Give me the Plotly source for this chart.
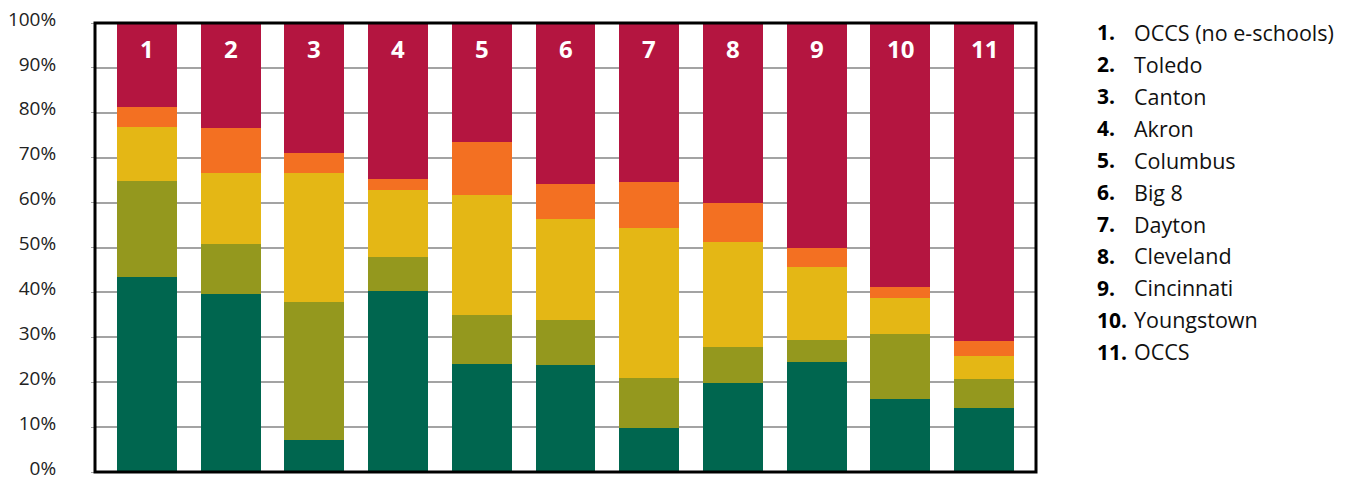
import plotly.graph_objects as go

# Districts (numbered bars) and the share of students in each band, bottom to top
district_nums = ["1", "2", "3", "4", "5", "6", "7", "8", "9", "10", "11"]
district_names = ["OCCS (no e-schools)", "Toledo", "Canton", "Akron", "Columbus",
                  "Big 8", "Dayton", "Cleveland", "Cincinnati", "Youngstown", "OCCS"]

green = [43.5, 39.7, 7.2, 40.3, 24.1, 23.9, 9.9, 19.9, 24.6, 16.3, 14.3]
olive = [21.3, 11.1, 30.7, 7.6, 10.9, 10.0, 11.1, 8.0, 4.8, 14.5, 6.5]
yellow = [12.0, 15.8, 28.7, 14.9, 26.7, 22.4, 33.3, 23.3, 16.3, 8.0, 5.1]
orange = [4.4, 10.0, 4.4, 2.4, 11.7, 7.8, 10.3, 8.7, 4.2, 2.4, 3.3]
maroon = [18.8, 23.4, 29.0, 34.8, 26.6, 35.9, 35.4, 40.1, 50.1, 58.8, 70.8]

y_ticks = [0, 10, 20, 30, 40, 50, 60, 70, 80, 90, 100]
y_tick_text = [f"{v}%" for v in y_ticks]

series = [
    (green, "#00664F"),
    (olive, "#94981E"),
    (yellow, "#E4B715"),
    (orange, "#F37022"),
    (maroon, "#B41540"),
]

x = list(range(len(district_nums)))
fig = go.Figure()
for vals, col in series:
    fig.add_trace(go.Bar(x=x, y=vals, marker=dict(color=col, line=dict(width=0)),
                         width=0.715, hoverinfo="skip", showlegend=False))

# White district numbers near the top of each bar
for i, num in enumerate(district_nums):
    fig.add_annotation(x=i, y=94.3, xref="x", yref="y", text=f"<b>{num}</b>",
                       showarrow=False, font=dict(family="Open Sans", size=24, color="white",
                                                  weight=800),
                       xanchor="center", yanchor="middle")

# Numbered key on the right
plot_left, plot_right, plot_top, plot_bottom = 95, 1036, 22.5, 472.5
pw = plot_right - plot_left
ph = plot_bottom - plot_top
for i, (num, name) in enumerate(zip(district_nums, district_names)):
    ypix = 32 + 32 * i
    yp = (plot_bottom - ypix) / ph
    fig.add_annotation(x=(1095 - plot_left) / pw, y=yp, xref="paper", yref="paper",
                       text=f"<b>{num}.</b>", showarrow=False, xanchor="left", yanchor="middle",
                       font=dict(family="Open Sans", size=21, color="black", weight=800))
    fig.add_annotation(x=(1132 - plot_left) / pw, y=yp, xref="paper", yref="paper",
                       text=name, showarrow=False, xanchor="left", yanchor="middle",
                       font=dict(family="Open Sans", size=21.5, color="#111111"))

# Frame around the plotting area
fig.add_shape(type="rect", xref="paper", yref="paper", x0=0, x1=1, y0=0, y1=1,
              line=dict(color="black", width=3), layer="above")

fig.update_layout(
    width=1354, height=480,
    margin=dict(l=plot_left, r=1354 - plot_right, t=plot_top, b=480 - plot_bottom),
    barmode="stack",
    plot_bgcolor="white", paper_bgcolor="white",
    xaxis=dict(range=[-0.62, 10.62], showticklabels=False, showgrid=False,
               zeroline=False, fixedrange=True),
    yaxis=dict(range=[0, 100], tickvals=y_ticks, ticktext=y_tick_text,
               showgrid=True, gridcolor="#a3a3a3", gridwidth=1.5, zeroline=False,
               ticks="outside", ticklen=3, tickcolor="#a3a3a3", ticklabelstandoff=31,
               ticklabeloverflow="allow", automargin=False, ticklabelshift=-4,
               tickfont=dict(family="Open Sans", size=19, color="#222222"),
               fixedrange=True),
    font=dict(family="Open Sans"),
)

fig.write_html("out.html")
